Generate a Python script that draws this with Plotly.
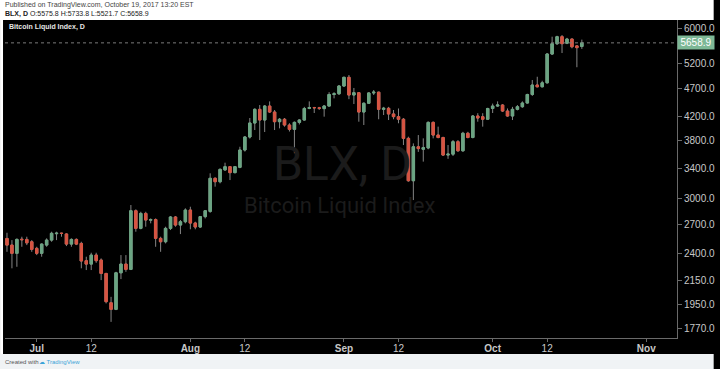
import math
import pandas as pd
import plotly.graph_objects as go

# ---------------- data ----------------
start_date = "2017-06-25"

opens = [2553, 2485, 2403, 2545, 2543, 2519, 2452, 2403, 2485, 2536,
         2603, 2608, 2600, 2495, 2543, 2502, 2332, 2300, 2386, 2338,
         2214, 1965, 1913, 2220, 2300, 2251, 2858, 2660, 2827, 2750,
         2757, 2554, 2519, 2660, 2786, 2696, 2733, 2866, 2718, 2675,
         2790, 2850, 3261, 3216, 3375, 3419, 3337, 3410, 3659, 3858,
         4084, 4318, 4134, 4376, 4271, 4106, 4147, 4051, 3980, 4095,
         4134, 4333, 4350, 4345, 4330, 4376, 4587, 4600, 4748, 4919,
         4577, 4620, 4271, 4426, 4615, 4630, 4318, 4336, 4237, 4191,
         4147, 3837, 3229, 3708, 3670, 3690, 4095, 3889, 3850, 3585,
         3598, 3785, 3648, 3917, 3850, 4202, 4190, 4147, 4333, 4376,
         4394, 4288, 4202, 4318, 4364, 4430, 4587, 4767, 4733, 4810,
         5408, 5640, 5803, 5650, 5748, 5590, 5575.8]
highs = [2613, 2536, 2554, 2571, 2571, 2536, 2468, 2502, 2554, 2624,
         2624, 2613, 2607, 2554, 2554, 2519, 2370, 2409, 2409, 2354,
         2220, 2013, 2229, 2386, 2386, 2925, 2874, 2846, 2846, 2770,
         2770, 2571, 2678, 2797, 2797, 2752, 2886, 2905, 2733, 2797,
         2866, 3328, 3274, 3395, 3475, 3428, 3428, 3708, 3873, 4168,
         4336, 4394, 4394, 4460, 4306, 4168, 4168, 4080, 4110, 4147,
         4361, 4460, 4361, 4361, 4394, 4630, 4630, 4767, 4930, 4965,
         4710, 4630, 4440, 4630, 4671, 4640, 4361, 4361, 4306, 4333,
         4168, 3863, 3759, 3889, 3837, 4110, 4110, 4024, 3863, 3734,
         3811, 3811, 3940, 3940, 4219, 4250, 4250, 4345, 4420, 4460,
         4410, 4333, 4361, 4394, 4460, 4600, 4865, 4930, 4850, 5430,
         5803, 5825, 5843, 5775, 5760, 5610, 5733.8]
lows = [2418, 2261, 2275, 2468, 2485, 2418, 2386, 2370, 2468, 2519,
        2536, 2571, 2475, 2468, 2485, 2261, 2245, 2245, 2312, 2155,
        1960, 1818, 1907, 2164, 2229, 2245, 2624, 2650, 2678, 2715,
        2468, 2418, 2502, 2642, 2678, 2599, 2715, 2650, 2650, 2665,
        2770, 2834, 3152, 3195, 3360, 3238, 3328, 3398, 3636, 3834,
        3969, 3811, 3937, 4254, 3969, 3996, 4024, 3945, 3611, 4060,
        4123, 4320, 4254, 4306, 4191, 4370, 4515, 4577, 4730, 4500,
        4412, 4106, 4051, 4412, 4577, 4147, 4219, 4134, 4147, 4080,
        3734, 3216, 2985, 3631, 3490, 3670, 3837, 3837, 3571, 3530,
        3571, 3631, 3631, 3837, 3837, 4106, 4024, 4134, 4254, 4361,
        4271, 4191, 4134, 4300, 4345, 4420, 4560, 4720, 4720, 4795,
        5386, 5610, 5430, 5630, 5535, 5125, 5521.7]
closes = [2485, 2403, 2543, 2540, 2508, 2442, 2403, 2495, 2536, 2607,
          2608, 2606, 2495, 2543, 2495, 2329, 2300, 2386, 2332, 2214,
          1974, 1913, 2220, 2300, 2251, 2858, 2660, 2827, 2752, 2757,
          2554, 2519, 2660, 2786, 2696, 2733, 2866, 2718, 2675, 2790,
          2858, 3261, 3216, 3382, 3419, 3337, 3419, 3659, 3858, 4084,
          4318, 4134, 4376, 4271, 4106, 4147, 4051, 3980, 4095, 4134,
          4333, 4350, 4345, 4335, 4376, 4587, 4600, 4748, 4919, 4577,
          4620, 4271, 4426, 4615, 4630, 4318, 4336, 4237, 4191, 4147,
          3837, 3229, 3708, 3680, 3695, 4095, 3889, 3850, 3585, 3598,
          3785, 3648, 3917, 3850, 4202, 4168, 4147, 4333, 4376, 4394,
          4288, 4202, 4318, 4364, 4430, 4587, 4767, 4733, 4810, 5408,
          5640, 5803, 5640, 5748, 5570, 5550, 5658.9]

y_tick_values = [1770, 1950, 2150, 2400, 2700, 3000, 3400, 3800, 4200, 4700, 5200, 6000]
y_tick_labels = ["1770.0", "1950.0", "2150.0", "2400.0", "2700.0", "3000.0",
                 "3400.0", "3800.0", "4200.0", "4700.0", "5200.0", "6000.0"]
x_tick_dates = ["2017-07-01", "2017-07-12", "2017-08-01", "2017-08-12", "2017-09-01",
                "2017-09-12", "2017-10-01", "2017-10-12", "2017-11-01"]
x_tick_labels = ["<b>Jul</b>", "12", "<b>Aug</b>", "12", "<b>Sep</b>", "12",
                 "<b>Oct</b>", "12", "<b>Nov</b>"]

x_range = ["2017-06-24 14:24", "2017-11-07 04:48"]
y_range = [1702.6, 6211.0]

# ---------------- styling ----------------
UP = "#6ba583"
DOWN = "#d75442"
WICK = "#858585"
AXIS_TXT = "#c8c8c8"
FONT = "Liberation Sans, Arial, sans-serif"

dates = pd.date_range(start_date, periods=len(opens), freq="D")
body_hi = [max(o, c) for o, c in zip(opens, closes)]
body_lo = [min(o, c) for o, c in zip(opens, closes)]
last_close = closes[-1]

fig = go.Figure()
# wicks
fig.add_trace(go.Candlestick(
    x=dates, open=opens, high=highs, low=lows, close=closes,
    increasing=dict(line=dict(color=WICK, width=1), fillcolor="rgba(0,0,0,0)"),
    decreasing=dict(line=dict(color=WICK, width=1), fillcolor="rgba(0,0,0,0)"),
    hoverinfo="skip", showlegend=False))
# bodies
fig.add_trace(go.Candlestick(
    x=dates, open=opens, high=body_hi, low=body_lo, close=closes,
    increasing=dict(line=dict(color=UP, width=1), fillcolor=UP),
    decreasing=dict(line=dict(color=DOWN, width=1), fillcolor=DOWN),
    hoverinfo="skip", showlegend=False))
# last price line
fig.add_trace(go.Scatter(
    x=x_range, y=[last_close, last_close], mode="lines",
    line=dict(color="#7a7a7a", width=1, dash="dot"),
    hoverinfo="skip", showlegend=False))

def px_x(p):
    return (p - 5) / 678.0

def px_y(p):
    return (338 - p) / 318.0

shapes = [
    dict(type="rect", xref="paper", yref="paper", x0=px_x(0), x1=px_x(720),
         y0=px_y(20), y1=px_y(0), fillcolor="#ffffff", line=dict(width=0), layer="below"),
    dict(type="rect", xref="paper", yref="paper", x0=px_x(0), x1=px_x(3),
         y0=px_y(369), y1=px_y(0), fillcolor="#ffffff", line=dict(width=0), layer="below"),
    dict(type="rect", xref="paper", yref="paper", x0=px_x(0), x1=px_x(720),
         y0=px_y(369), y1=px_y(354), fillcolor="#f0f3f5", line=dict(width=0), layer="below"),
]

annotations = [
    dict(xref="paper", yref="paper", x=px_x(3), y=px_y(5), xanchor="left", yanchor="middle",
         text="Published on TradingView.com, October 19, 2017 13:20 EST",
         showarrow=False, font=dict(family=FONT, size=7, color="#444444")),
    dict(xref="paper", yref="paper", x=px_x(3), y=px_y(13.5), xanchor="left", yanchor="middle",
         text="<b>BLX, D</b> O:5575.8 H:5733.8 L:5521.7 C:5658.9",
         showarrow=False, font=dict(family=FONT, size=7, color="#222222")),
    dict(xref="paper", yref="paper", x=px_x(7), y=px_y(27), xanchor="left", yanchor="middle",
         text="<b>Bitcoin Liquid Index, D</b>",
         showarrow=False, font=dict(family=FONT, size=7, color="#e6e6e6")),
    dict(xref="paper", yref="paper", x=px_x(346), y=px_y(163), xanchor="center", yanchor="middle",
         text="BLX, D", showarrow=False,
         font=dict(family="Roboto, sans-serif", size=48, color="#1b1b1b")),
    dict(xref="paper", yref="paper", x=px_x(343), y=px_y(205), xanchor="center", yanchor="middle",
         text="Bitcoin Liquid Index", showarrow=False,
         font=dict(family="Roboto, sans-serif", size=22, color="#1b1b1b")),
    dict(xref="paper", yref="y", x=1.0, y=math.log10(last_close), xanchor="left", yanchor="middle",
         text="5658.9", showarrow=False, bgcolor="#7db896", borderpad=1, width=34,
         font=dict(family=FONT, size=10, color="#ffffff")),
    dict(xref="paper", yref="paper", x=px_x(3), y=px_y(361.5), xanchor="left", yanchor="middle",
         text="Created with", showarrow=False,
         font=dict(family=FONT, size=6, color="#555555")),
    dict(xref="paper", yref="paper", x=px_x(37), y=px_y(361.5), xanchor="left", yanchor="middle",
         text="☁ TradingView", showarrow=False,
         font=dict(family=FONT, size=6, color="#3ca3d8")),
]

fig.update_layout(
    width=720, height=369,
    margin=dict(l=5, r=37, t=20, b=31),
    paper_bgcolor="#000000", plot_bgcolor="#000000",
    showlegend=False, hovermode=False,
    shapes=shapes, annotations=annotations,
    font=dict(family=FONT, color=AXIS_TXT),
    xaxis=dict(
        type="date", range=x_range, rangeslider=dict(visible=False),
        showgrid=False, zeroline=False, showline=True, linecolor="#6a6a6a", linewidth=1,
        ticks="outside", ticklen=3, tickcolor="#6a6a6a", ticklabelstandoff=-2,
        tickmode="array", tickvals=x_tick_dates, ticktext=x_tick_labels,
        tickfont=dict(family=FONT, size=10, color=AXIS_TXT), fixedrange=True,
    ),
    yaxis=dict(
        type="log", range=[math.log10(y_range[0]), math.log10(y_range[1])],
        side="right", showgrid=False, zeroline=False, showline=True,
        linecolor="#6a6a6a", linewidth=1,
        ticks="outside", ticklen=4, tickcolor="#6a6a6a",
        tickmode="array", tickvals=y_tick_values, ticktext=y_tick_labels,
        tickfont=dict(family=FONT, size=10, color=AXIS_TXT), fixedrange=True,
    ),
)

fig.write_html("out.html")
